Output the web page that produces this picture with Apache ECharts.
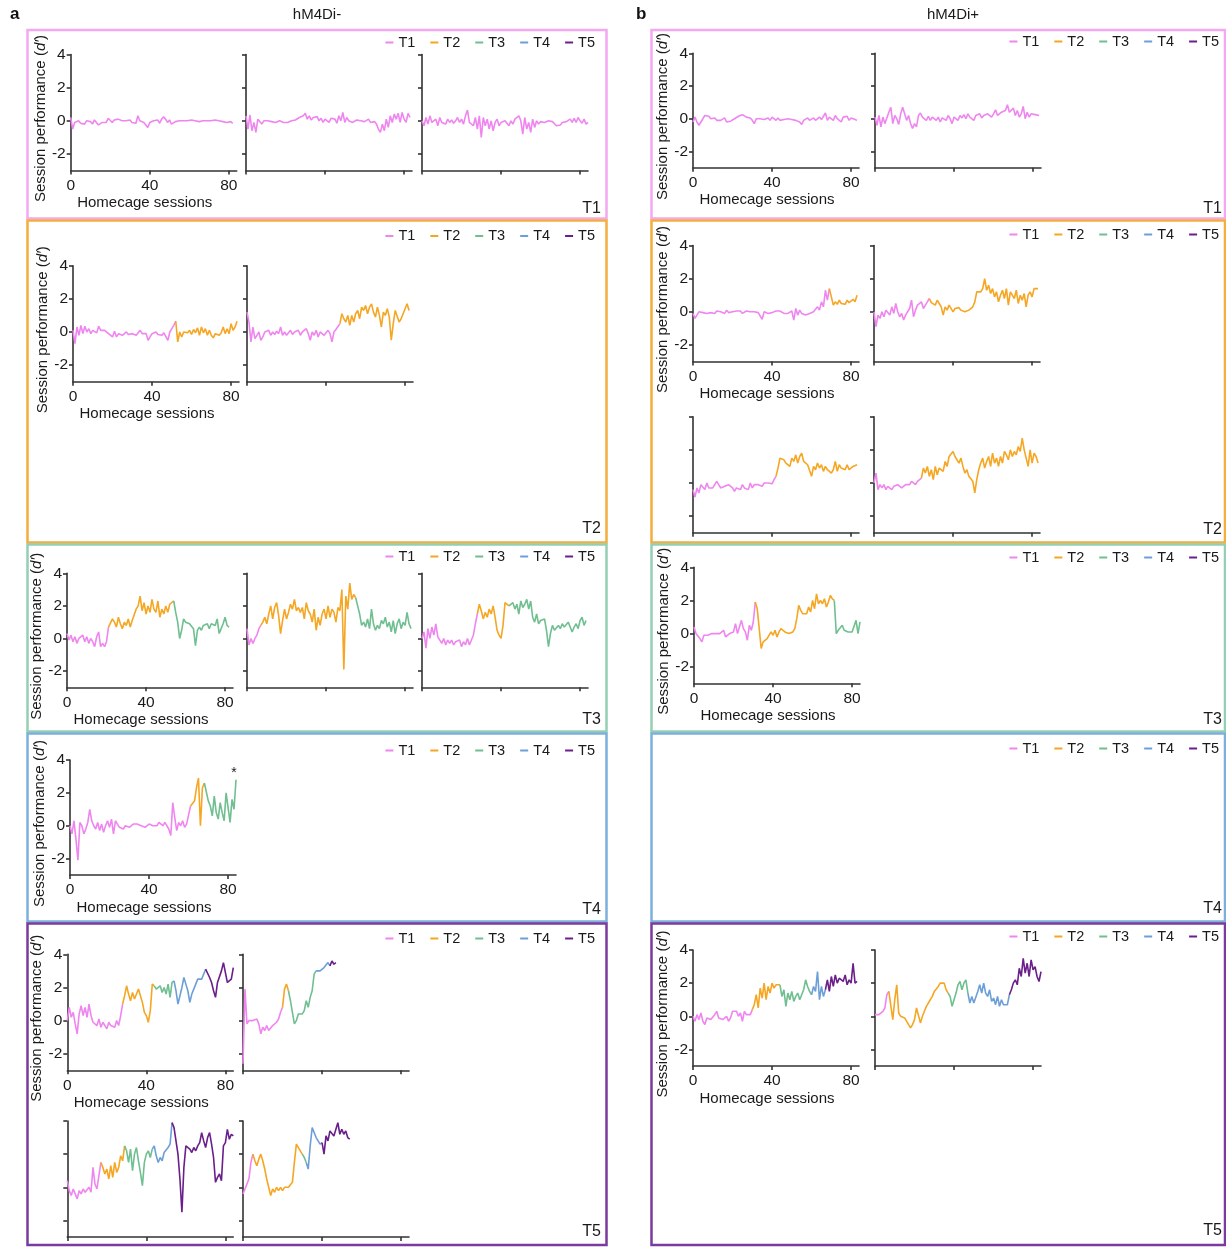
<!DOCTYPE html>
<html>
<head>
<meta charset="utf-8">
<script src="https://cdn.jsdelivr.net/npm/echarts@6/dist/echarts.min.js"></script>
<style>
html,body{margin:0;padding:0;background:#fff;}
#chart{width:1226px;height:1247px;}
</style>
</head>
<body>
<div id="chart"></div>
<script>
// Training stages, axis ticks and group titles
const STAGE_NAMES = ['T1', 'T2', 'T3', 'T4', 'T5'];
const X_TICKS = [0, 40, 80];
const Y_TICKS = [-2, 0, 2, 4];
const GROUP_TITLES = ['hM4Di-', 'hM4Di+'];
const PANEL_LETTERS = ['a', 'b'];

// Session-by-session d' for each animal; *_starts = first session index of each stage (T1, T2, ...)
// hM4Di- animals, highest stage reached T1
const aT1_1 = [0.2,-0.5,-0.1,-0.2,0,-0.15,-0.05,-0.2,0,-0.1, -0.05,-0.2,0.05,-0.1,-0.25,-0.2,-0.1,0,-0.1,0.15, 0.2,-0.1,0.05,-0.05,0.1,0,0,-0.05,0,-0.1, 0.05,-0.1,0,-0.15,0.3,0,0.1,-0.1,-0.05,-0.4, -0.1,-0.2,0,-0.1,0.05,-0.15,0.1,0.25,0.1,-0.1, 0.05,-0.2,-0.1,-0.05,-0.1,0,-0.05,0,0,0, 0,0.05,0,0,0,-0.05,-0.15,0,0,0, -0.05,0,0,0.05,0,0,0,-0.05,0,-0.1, -0.15,-0.05,-0.15];
const aT1_1_starts = [0];
const aT1_2 = [0.3,-0.5,0.35,-0.6,-0.1,-0.7,0.1,0.2,-0.2,0, -0.05,0,-0.1,-0.05,0,-0.1,-0.05,0,-0.05,-0.1, -0.05,-0.1,-0.05,0,0.1,0.05,0.15,0.2,0.1,0.3, 0.45,0.1,0.3,0.05,0.2,0.1,0.25,0,0.15,-0.1, 0.1,0.2,-0.1,0.15,0.05,0.1,-0.15,0.3,0,0.5, -0.1,0.2,0,0.1,-0.1,0,0.05,-0.05,0,0.1, -0.05,0,0.1,-0.1,0,-0.05,-0.2,-0.5,-0.7,-0.2, -0.6,0.1,-0.4,0.3,-0.1,0.4,0.1,0.45,-0.1,0.5, 0.1,-0.1,0.45,0.2];
const aT1_2_starts = [0];
const aT1_3 = [0,-0.3,0.2,-0.2,0.3,-0.1,-0.2,0.1,-0.3,0.2, -0.1,0,-0.2,0.1,-0.1,0.05,-0.15,0,0.2,-0.1, 0.1,-0.2,0.3,0.65,-0.1,0,-0.3,0.2,-0.5,0.3, -1.0,0.2,-0.3,0.1,-0.5,0,-0.6,-0.1,0.1,-0.3, -0.1,-0.2,0,0.1,-0.3,0,-0.2,0.1,0.2,0.3, 0,-0.8,0.2,-0.5,-0.1,-0.7,0.1,-0.4,0,-0.2, -0.05,0,-0.1,-0.05,0,-0.1,-0.05,0,-0.3,-0.2, -0.25,-0.1,0,-0.05,0.05,0.1,-0.1,0.15,-0.1,0.2, 0,-0.15,0.1,-0.2,-0.1];
const aT1_3_starts = [0];

// hM4Di- animals, highest stage reached T2
const aT2_1 = [0.1,-0.7,0.3,-0.2,0.4,-0.1,0.35,0,0.2,-0.1, 0.1,0.2,-0.05,0.35,0.1,0,0.1,0.05,-0.1,0, -0.3,0.05,-0.3,-0.1,0,-0.2,-0.1,0,-0.15,-0.05, -0.1,0,-0.2,-0.05,0.1,-0.1,-0.2,-0.1,-0.5,-0.3, -0.1,-0.2,0,-0.15,-0.1,-0.2,-0.05,-0.15,-0.5,0, 0.2,0.4, 0.65,-0.6,0,-0.3,0,-0.1,-0.05,0.1, -0.15,0.15,-0.05,0.25,-0.2,0.3,-0.05,0.2,-0.2,0.1, -0.2,-0.35,-0.1,0,-0.2,-0.05,0.3,-0.1,0.2,-0.1, 0.5,0.1,0.3,0.65];
const aT2_1_starts = [0, 52];
const aT2_2 = [1.2,0.6,-0.6,0.3,-0.4,-0.2,0,-0.5,-0.3,0, -0.1,0.1,-0.2,0,-0.15,0.05,-0.1,0.3,-0.2,0, -0.2,-0.05,0.1,-0.15,0,-0.1,0.1,-0.2,0,0.1, 0.2,-0.1,-0.5,0,-0.2,0.1,-0.3,0,-0.1,-0.2, -0.3,0.1,-0.1,-0.6,0,0.15,0.25, 0.5,1.1,0.8, 0.6,1.0,0.4,1.0,0.6,1.1,1.3,0.8,1.5,1.3, 1.6,1.1,1.5,1.7,1.2,0.9,1.5,1.0,0.3,1.2, 1.0,1.4,0.9,-0.5,0.5,1.3,1.2,0.6,0.8,1.1, 1.0,1.7,1.3];
const aT2_2_starts = [0, 47];

// hM4Di- animals, highest stage reached T3
const aT3_1 = [0.3,-0.1,0.2,-0.2,0.1,-0.3,0,-0.1,0.2,-0.2, 0.1,-0.3,0,-0.2,-0.5,0.1,0.4,-0.5,-0.3,-0.5, -0.2, 0.7,0.8,1.2,1.0,0.7,1.3,0.9,0.6,1.0, 0.8,1.2,0.7,1.1,1.0,1.8,2.0,2.6,1.7,2.2, 1.5,2.0,1.6,2.4,1.8,1.6,2.3,1.3,1.8,1.5, 2.0,1.6,2.1,2.2, 2.3,1.6,1.0,0.0,0.5,1.2, 1.0,1.1,0.9,1.0,0.6,-0.45,0.5,0.7,0.5,0.8, 0.7,0.9,0.6,0.9,1.0,0.8,1.2,0.3,0.6,0.9, 1.3,0.8,0.7];
const aT3_1_starts = [0, 21, 54];
const aT3_2 = [0.6,-0.4,0.0,-0.3,0.0,0.2,0.6, 0.8,1.0,1.3, 0.9,1.5,2.0,1.2,1.9,2.2,1.4,0.3,1.1,1.8, 1.2,1.6,2.1,1.8,2.4,1.7,1.9,1.6,1.9,1.2, 2.2,1.7,1.5,1.0,1.8,0.5,1.3,0.8,1.5,1.8, 1.2,2.0,1.3,1.8,1.6,1.0,1.9,1.7,3.0,-1.9, 2.6,1.8,3.4,2.4,2.7, 2.5,2.0,1.5,0.8,1.0, 0.7,1.2,0.6,1.8,0.9,0.5,0.8,0.6,1.1,0.9, 1.3,0.7,1.0,0.4,1.1,0.3,0.9,1.2,0.6,1.0, 0.8,1.6,0.9,0.6];
const aT3_2_starts = [0, 7, 55];
const aT3_3 = [0.0,0.4,-0.6,0.6,0.0,0.7,0.2,0.9,0.1,-0.1, -0.3,0.0,-0.4,-0.1,-0.3,-0.1,-0.4,-0.2,-0.3,-0.1, -0.5,-0.2,-0.4,0.0,-0.4,-0.1,0.2,0.9, 1.5,2.1,1.7,1.2,1.6,1.3,1.8,1.5,2.0,1.3, 0.5,0.2,0.0,0.8,2.2,2.1, 2.0,1.9,2.2,1.8,2.1,1.5,2.3,1.9,2.1,2.4, 1.8,2.3,1.3,1.0,1.5,0.9,1.1,1.0,1.2,0.5, -0.5,0.3,0.8,0.5,0.6,0.8,0.6,0.9,0.7,0.8, 1.0,0.9,0.4,0.7,0.9,0.6,1.1,1.3,0.8,1.1];
const aT3_3_starts = [0, 28, 44];

// hM4Di- animal, highest stage reached T4
const aT4_1 = [0.0,-0.5,0.3,-0.8,-2.1,0.2,0.0,-0.5,-0.2,0.2, 1.0,0.3,0.0,-0.2,0.2,-0.3,0.1,-0.4,0.0,0.3, -0.1,0.4,-0.5,0.3,0.1,-0.1,0.0,-0.2,0.0,0.0, -0.1,0.0,0.1,0.0,0.1,0.2,0.0,0.0,-0.1,0.0, 0.1,0.0,0.0,0.1,0.0,0.2,0.1,0.0,0.2,0.1, -0.2,-0.6,1.4,0.5,-0.3,0.2,0.0,0.3,-0.1,0.1, 0.0, 1.2,1.2,1.5,2.3,2.9,0.0,2.3, 2.6,2.5,1.5,1.2,0.6,1.8,0.8,0.4,1.4,0.8, 0.3,2.0,1.1,0.2,1.6,1.0,2.8];
const aT4_1_starts = [0, 61, 68];
const aT4_1_mark = [84, 3.3];

// hM4Di- animals, highest stage reached T5
const aT5_1 = [0.0,0.8,0.2,0.5,-0.2,-0.8,0.4,0.9,0.3,0.8, 0.2,1.0,0.3,-0.1,0.0,-0.3,0.1,-0.4,-0.1,-0.2, -0.5,-0.1,-0.3,-0.2,-0.4,0.0,-0.3,0.3, 1.0,1.5,2.1,1.6,1.2,1.7,1.3,1.6,1.9,2.0, 1.1,0.5,0.3,-0.1,0.6,2.2, 2.1,1.9,1.8,2.1,1.7,2.0,1.6,2.2,1.4,2.3, 2.4,1.8,1.0,1.5,2.0,2.6,2.2,1.8,1.1,1.6, 1.9,2.2,2.5,2.6,2.5,2.8, 3.1,3.0,2.6,2.3,1.8,1.4,2.3,2.4,3.0,3.5, 3.4,2.3,2.4,2.5,3.2];
const aT5_1_starts = [0, 28, 44, 54, 70];
const aT5_2 = [-2.6,1.9,-0.2,0.0,0.1,0.0,0.1,0.1,-0.2,-0.8, -0.4,-0.6,-0.3,-0.6,-0.5,-0.3,-0.2,-0.1,0.1,0.5, 0.8,1.9,2.2, 1.8,1.2,0.5,-0.2,0.0,0.4,0.5,0.4,0.6,1.2,0.8,1.4,1.8,2.8, 3.0,2.9,3.0,2.9,3.2,3.1,3.5, 3.3,3.6,3.4,3.5];
const aT5_2_starts = [0, 20, 23, 37, 44];
const aT5_3 = [0.4,-0.2,-0.5,-0.1,-0.4,-0.7,-0.2,-0.4,-0.1,-0.3, -0.2,0.0,-0.3,1.2,0.2,-0.1,0.0, 1.5,1.2,0.8,1.1,0.5,1.3,0.6,1.5,0.9,1.2,1.9,1.6, 2.5,2.2,1.5,2.3,1.0,2.0,2.4,1.6,0.9,0.1,1.5,2.0,2.2,1.8, 2.3,2.5,1.9,1.5,1.8,1.6,2.1,2.0,2.4,2.6, 3.9,3.6,3.5,2.0,0.5,-1.5,1.2,2.5,2.6,2.3, 2.1,2.4,2.2,2.5,2.7,3.3,2.8,2.4,3.0,3.3, 2.6,1.8,0.3,0.6,0.8,0.4,2.5,2.7,3.5,2.9, 3.2,3.1];
const aT5_3_starts = [0, 17, 29, 43, 53];
const aT5_4 = [-0.4,-0.1,0.2,0.5,1.5, 2.0,1.6,1.3,1.7,2.0,1.6,1.1,0.5,0.0,-0.5, -0.1,-0.3,0.0,-0.2,0.0,-0.2,0.0,-0.1,0.0,0.1, 0.3,1.5,2.6,2.5,2.2, 2.0,1.8, 1.5,1.1,2.5,3.6,3.6,3.0,2.8,2.6, 2.7,2.0,3.1,2.8,3.4,3.3,3.1,3.5,3.9,3.2, 3.5,3.2,3.4,3.0,2.9];
const aT5_4_starts = [0, 5, 30, 32, 40];

// hM4Di+ animals, highest stage reached T1
const bT1_1 = [-0.2,0.1,-0.2,-0.4,-0.5,0,0.2,0.2,0.15,0, -0.05,0.05,-0.1,0,-0.1,-0.05,0.05,-0.2,-0.1,-0.15, -0.05,0,0.1,0.15,0.2,0.25,0.3,0.1,0,0.05, -0.1,-0.3,0,-0.1,0,0.05,-0.05,0,0.05,-0.1, 0.1,0,-0.1,0.05,-0.1,0,-0.05,-0.1,0,0.05, -0.05,0,-0.1,-0.05,-0.2,-0.35,-0.1,-0.2,0.05,-0.1, 0,0.05,-0.1,0,0.1,-0.05,0.05,0.35,-0.1,0.1, 0.05,-0.1,0.2,0,0.1,-0.2,0.1,0,0.15,-0.1, 0.05,0,-0.05,-0.1];
const bT1_1_starts = [0];
const bT1_2 = [0.1,-0.4,0.2,-0.5,0.1,-0.3,-0.4,0.4,0.7,-0.3, 0.2,0.0,-0.35,0.3,0.7,0.3,-0.1,0.2,-0.3,-0.6, -0.3,-0.5,0.2,0.35,0.1,0.2,-0.1,0.15,-0.1,0.1, 0,-0.1,0.1,-0.2,0.05,0.1,-0.1,0.2,0,-0.3, 0.1,0.2,-0.1,0.2,0.05,0.25,0,0.3,0.1,0.2, -0.1,0.2,0.1,0.3,0.05,0.2,0.1,0.3,0.2,0.1, 0.3,0.55,0.2,0.1,0.4,0.3,0.5,0.85,0.4,0.3, 0.65,0.2,0.5,0.1,0.3,0.75,0.0,0.4,0.1,0.3, 0.2,0.25,0.3,0.2];
const bT1_2_starts = [0];

// hM4Di+ animals, highest stage reached T2
const bT2_1 = [-0.1,-0.4,-0.2,0,-0.1,-0.05,0.05,-0.1,0,-0.05, 0,-0.1,0.05,-0.05,0,0.05,-0.1,0.1,-0.05,0, 0,-0.1,0.05,0,0.05,-0.1,0,0.05,-0.05,0, -0.1,0,0.05,-0.05,-0.15,-0.45,0,0.1,-0.1,0, -0.05,0,0.05,-0.05,0.05,0,-0.1,0,-0.1,-0.05, 0.05,-0.5,0.2,-0.2,0.1,-0.1,-0.15,-0.2,-0.2,-0.1, -0.2,0,-0.1,0.3,0.1,0.6,0.3,1.3,0.7, 1.4,0.9,0.4,0.6,0.45,0.7,0.5,0.55,0.45,0.7,0.55,0.5,0.75,0.6,1.0];
const bT2_1_starts = [0, 69];
const bT2_2 = [0,-0.9,-0.2,-0.4,0,-0.3,0.1,0,-0.2,0.3, -0.1,0.5,0,-0.3,-0.1,-0.5,-0.2,-0.3,0.2,0.7, -0.3,0.1,0.4,0.3,0.6,0.2,0.4,0.6, 0.8,0.55,0.6,0.4,0.7,0.5,0.3,-0.2,0.3,0.1, 0.4,0.3,0.0,0.2,0.3,0.25,0.1,0.2,0.0,0.05, 0.1,0.2,0.3,0.6,1.2,1.3,1.2,1.4,2.0,1.3, 1.6,1.1,1.4,0.9,1.2,0.6,1.0,1.3,0.8,1.4, 0.4,1.2,1.1,0.8,1.3,0.5,1.0,0.7,1.1,0.3, 1.0,1.2,0.9,1.4,1.3,1.4];
const bT2_2_starts = [0, 28];
const bT2_3 = [-0.4,-0.85,-0.3,-0.6,-0.1,0.0,-0.4,0,-0.3,-0.2, -0.3,-0.2,0.1,-0.1,-0.3,-0.4,-0.2,-0.3,-0.1,-0.2, -0.3,-0.5,-0.3,-0.2,-0.4,-0.1,-0.3,-0.2,-0.4,0, -0.3,-0.1,-0.2,-0.1,0,-0.2,0,-0.1,0,0.1, -0.05,0.2, 0.4,0.9,1.5,1.6,1.4,1.2,1.3,1.0, 1.5,1.3,1.7,1.2,1.6,1.8,1.3,1.4,1.1,1.2, 0.4,1.0,0.8,1.2,0.9,1.1,0.7,1.0,0.8,0.9, 0.6,0.8,1.3,0.7,1.1,0.9,1.0,0.8,1.1,0.8, 0.9,1.0,0.9,1.1];
const bT2_3_starts = [0, 42];
const bT2_4 = [0,0.6,-0.4,-0.1,-0.3,-0.1,-0.4,-0.2,-0.1,-0.4, -0.2,-0.3,-0.1,0,-0.3,-0.2,-0.1,0,-0.1,0.1, 0,-0.1,0.1,0.0, 0.3,0.9,0.6,1.0,0.4,0.8, 0.2,1.0,0.5,0.9,1.0,0.7,1.3,1.0,1.6,1.5, 1.9,1.6,1.7,1.2,1.5,1.0,0.6,0.8,0.4,0.5, 0.1,-0.6,0.2,0.8,1.2,1.5,0.9,1.3,1.6,1.0, 1.8,1.2,1.5,1.0,1.6,1.2,1.9,1.7,1.4,2.0, 1.6,1.9,1.7,2.2,1.9,2.7,2.0,1.5,1.0,2.0, 1.2,1.8,1.6,1.2];
const bT2_4_starts = [0, 24];

// hM4Di+ animal, highest stage reached T3
const bT3_1 = [0.4,0.0,-0.1,-0.3,-0.5,-0.1,0.0,-0.1,-0.2,0.0, -0.1,0.0,0.0,0.0,0.0,0.2,-0.2,-0.1,0.0,0.1, 0.1,0.6,0.0,0.4,0.8,0.3,0.1,-0.4,0.5,0.2, 0.7, 1.9,1.5,1.5,-0.9,-0.5,-0.6,-0.3,-0.2,0.1, -0.1,0.2,-0.2,0.1,0.3,0.2,0.1,0.2,0.0,0.0, 0.1,0.3,0.9,1.7,1.4,1.2,1.3,1.2,1.6,1.3, 2.0,1.5,2.4,1.8,2.0,1.8,2.1,1.6,1.9,2.3, 2.1, 2.0,0.0,0.2,0.3,0.5,0.2,0.3,0.1,0.2, 0.1,0.2,0.8,0.0,0.7];
const bT3_1_starts = [0, 31, 71];

// hM4Di+ animals, highest stage reached T5
const bT5_1 = [0.0,-0.3,0.1,-0.2,0.2,-0.3,-0.5,-0.1,0.0,-0.2, -0.1,0.1,0.3,-0.1,0.0,-0.2,-0.1,0.0,-0.3,-0.1, 0.3,0.2,0.3,0.0,0.2,-0.3,0.3,0.1,0.2,0.1, 0.4,0.7,1.3,0.5,1.7,1.1,2.0,1.0,1.8,1.4, 2.0,1.7,1.9,1.8, 1.9,1.2,1.6,0.6,1.4,1.0,1.5,0.9,1.2,1.4, 1.0,1.3,1.6,2.2,1.8,1.5, 1.3,1.8,1.5,2.7,1.0,1.8,1.2, 1.6,2.2,1.5,2.4,1.8,2.5,2.0,2.3,2.4,2.1, 2.5,1.9,2.2,2.0,3.2,2.0,2.1];
const bT5_1_starts = [0, 30, 44, 60, 67];
const bT5_2 = [0.1,0.1,0.1,0.2,0.3,0.5,1.3, 1.5,1.6,-0.2,1.0,1.9,0.2,0.0,0.1,-0.1,-0.2,-0.5,-0.7,-0.5, -0.2,0.5,0.6,-0.4,0.0,0.3,0.6,0.8,1.0,1.2, 1.5,1.6,1.8,2.0,2.1,2.0,1.6, 1.4,1.2,0.6,1.0,1.4,1.9,2.1,1.6,2.0,2.2, 1.4,0.8,1.2,0.8,0.8,1.5,1.9,1.4,2.0,1.4, 1.2,1.6,0.9,1.1,0.7,1.2,0.6,1.0,0.7,0.6, 0.7, 1.3,1.6,2.0,2.2,1.9,2.9,2.4,3.5,2.6, 3.2,2.4,3.4,2.8,3.0,2.4,2.1,2.7];
const bT5_2_starts = [0, 7, 37, 47, 68];

// ---------- styling ----------
const FONT = '"Liberation Sans", Arial, Helvetica, sans-serif';
const TEXT = '#1a1a1a';
const AXIS = '#333333';
const STAGE_COLORS = ['#ef86ef', '#f5a623', '#6fbf90', '#6c9fd8', '#6a1f8b'];
const BOX_COLORS = ['#f4a8f2', '#f5ad3c', '#93d0b3', '#7cb0dc', '#7b3a9d'];
const PANEL_W = 166;
const PANEL_H = 116;

// Framed boxes: one per (group, highest stage)
const COLS = [
  {x0: 27.5, x1: 606.5, legendRight: 631, labelRight: 601},
  {x0: 651.5, x1: 1225, legendRight: 7, labelRight: 1222}
];
const ROWS = [
  {y0: 30, y1: 218.5, legendY: [43, 42], labelY: [209, 209]},
  {y0: 220.5, y1: 542.5, legendY: [236.5, 235], labelY: [529, 530]},
  {y0: 544.5, y1: 731.5, legendY: [557, 558], labelY: [720, 720]},
  {y0: 733.5, y1: 921.5, legendY: [751, 749], labelY: [910, 909]},
  {y0: 923.5, y1: 1245, legendY: [939, 937], labelY: [1232, 1231]}
];

// Panel placement (grid origin = y-axis line, top = value 4)
const panels = [
  {col: 0, v: aT1_1, s: aT1_1_starts, x: 70.7, y: 54.5, labels: true},
  {col: 0, v: aT1_2, s: aT1_2_starts, x: 246, y: 54.5},
  {col: 0, v: aT1_3, s: aT1_3_starts, x: 422, y: 54.5},
  {col: 0, v: aT2_1, s: aT2_1_starts, x: 73, y: 265.7, labels: true},
  {col: 0, v: aT2_2, s: aT2_2_starts, x: 247, y: 265.7},
  {col: 0, v: aT3_1, s: aT3_1_starts, x: 67, y: 573.3, h: 114, labels: true},
  {col: 0, v: aT3_2, s: aT3_2_starts, x: 247, y: 573.3, h: 114},
  {col: 0, v: aT3_3, s: aT3_3_starts, x: 422, y: 573.3, h: 114},
  {col: 0, v: aT4_1, s: aT4_1_starts, x: 70, y: 760, h: 115, labels: true, mark: aT4_1_mark},
  {col: 0, v: aT5_1, s: aT5_1_starts, x: 67.3, y: 954.3, labels: true},
  {col: 0, v: aT5_2, s: aT5_2_starts, x: 243, y: 954.3},
  {col: 0, v: aT5_3, s: aT5_3_starts, x: 67.3, y: 1121},
  {col: 0, v: aT5_4, s: aT5_4_starts, x: 243, y: 1121},
  {col: 1, v: bT1_1, s: bT1_1_starts, x: 693, y: 53.3, h: 114.5, labels: true},
  {col: 1, v: bT1_2, s: bT1_2_starts, x: 875, y: 53.3, h: 114.5},
  {col: 1, v: bT2_1, s: bT2_1_starts, x: 693, y: 245.5, labels: true},
  {col: 1, v: bT2_2, s: bT2_2_starts, x: 874, y: 245.5},
  {col: 1, v: bT2_3, s: bT2_3_starts, x: 693, y: 416.7},
  {col: 1, v: bT2_4, s: bT2_4_starts, x: 874, y: 416.7},
  {col: 1, v: bT3_1, s: bT3_1_starts, x: 694, y: 567.3, labels: true},
  {col: 1, v: bT5_1, s: bT5_1_starts, x: 693, y: 950, labels: true},
  {col: 1, v: bT5_2, s: bT5_2_starts, x: 875, y: 950}
];

const grid = [], xAxis = [], yAxis = [], series = [];

panels.forEach((p, i) => {
  grid.push({left: p.x, top: p.y, width: PANEL_W, height: p.h || PANEL_H, containLabel: false});
  xAxis.push({
    type: 'value', gridIndex: i, min: 0, max: 84,
    axisLine: {show: true, onZero: false, lineStyle: {color: AXIS, width: 1.6}},
    axisTick: {show: true, customValues: X_TICKS, length: 4, lineStyle: {color: AXIS, width: 1.6}},
    axisLabel: {show: !!p.labels, customValues: X_TICKS, fontSize: 15.5, color: TEXT, margin: 7, fontFamily: FONT},
    splitLine: {show: false},
    name: p.labels ? 'Homecage sessions' : '',
    nameLocation: 'middle', nameGap: 25,
    nameTextStyle: {fontSize: 15, color: TEXT, fontFamily: FONT, padding: [0, 18, 0, 0]}
  });
  yAxis.push({
    type: 'value', gridIndex: i, min: -3, max: 4,
    axisLine: {show: true, onZero: false, lineStyle: {color: AXIS, width: 1.6}},
    axisTick: {show: true, customValues: Y_TICKS, length: 4, lineStyle: {color: AXIS, width: 1.6}},
    axisLabel: {show: !!p.labels, customValues: Y_TICKS, fontSize: 15.5, color: TEXT, margin: 5, fontFamily: FONT},
    splitLine: {show: false},
    name: p.labels ? 'Session performance ({i|d\u2032})' : '',
    nameLocation: 'middle', nameGap: 22,
    nameTextStyle: {
      fontSize: 15, color: TEXT, fontFamily: FONT, padding: [0, 12, 0, 0],
      rich: {i: {fontStyle: 'italic', fontSize: 15, color: TEXT, fontFamily: FONT}}
    }
  });
  // one line piece per stage; each piece runs into the first session of the next stage
  p.s.forEach((start, k) => {
    const end = k + 1 < p.s.length ? p.s[k + 1] : p.v.length - 1;
    const pts = [];
    for (let j = start; j <= end; j++) pts.push([j, p.v[j]]);
    const isLast = k === p.s.length - 1;
    const s = {
      type: 'line', name: STAGE_NAMES[k], xAxisIndex: i, yAxisIndex: i,
      data: pts, symbol: 'none', showSymbol: false, animation: false,
      lineStyle: {color: STAGE_COLORS[k], width: 1.6},
      itemStyle: {color: STAGE_COLORS[k]},
      z: 2 + k, silent: true
    };
    if (isLast && p.mark) {
      s.markPoint = {
        symbol: 'circle', symbolSize: 1, animation: false,
        itemStyle: {color: 'rgba(0,0,0,0)'},
        label: {show: true, formatter: '*', fontSize: 14, color: TEXT, fontFamily: FONT, offset: [-2, 2]},
        data: [{coord: p.mark}]
      };
    }
    series.push(s);
  });
});

// legends (one per box)
const legend = [];
ROWS.forEach((r, ri) => {
  COLS.forEach((c, ci) => {
    legend.push({
      data: STAGE_NAMES, icon: 'rect', itemWidth: 8, itemHeight: 2, itemGap: 15,
      right: c.legendRight, top: r.legendY[ci] - 8, padding: 0, selectedMode: false,
      textStyle: {fontSize: 14.5, color: TEXT, fontFamily: FONT}
    });
  });
});

// frames, stage tags, titles
const elements = [];
ROWS.forEach((r, ri) => {
  COLS.forEach((c, ci) => {
    elements.push({
      type: 'rect', silent: true, z: 0,
      shape: {x: c.x0, y: r.y0, width: c.x1 - c.x0, height: r.y1 - r.y0},
      style: {fill: 'none', stroke: BOX_COLORS[ri], lineWidth: 2.5}
    });
    elements.push({
      type: 'text', silent: true, x: c.labelRight, y: r.labelY[ci],
      style: {text: STAGE_NAMES[ri], fill: TEXT, font: '16px ' + FONT, textAlign: 'right', textVerticalAlign: 'middle'}
    });
  });
});
[[PANEL_LETTERS[0], 10], [PANEL_LETTERS[1], 636]].forEach(([t, x]) => {
  elements.push({type: 'text', silent: true, x: x, y: 14,
    style: {text: t, fill: '#111', font: 'bold 17px ' + FONT, textAlign: 'left', textVerticalAlign: 'middle'}});
});
[[GROUP_TITLES[0], 317], [GROUP_TITLES[1], 953]].forEach(([t, x]) => {
  elements.push({type: 'text', silent: true, x: x, y: 15,
    style: {text: t, fill: TEXT, font: '15px ' + FONT, textAlign: 'center', textVerticalAlign: 'middle'}});
});

const chart = echarts.init(document.getElementById('chart'), null, {renderer: 'canvas', width: 1226, height: 1247});
chart.setOption({
  backgroundColor: '#ffffff',
  animation: false,
  grid: grid,
  xAxis: xAxis,
  yAxis: yAxis,
  legend: legend,
  series: series,
  graphic: {elements: elements}
});
</script>
</body>
</html>
